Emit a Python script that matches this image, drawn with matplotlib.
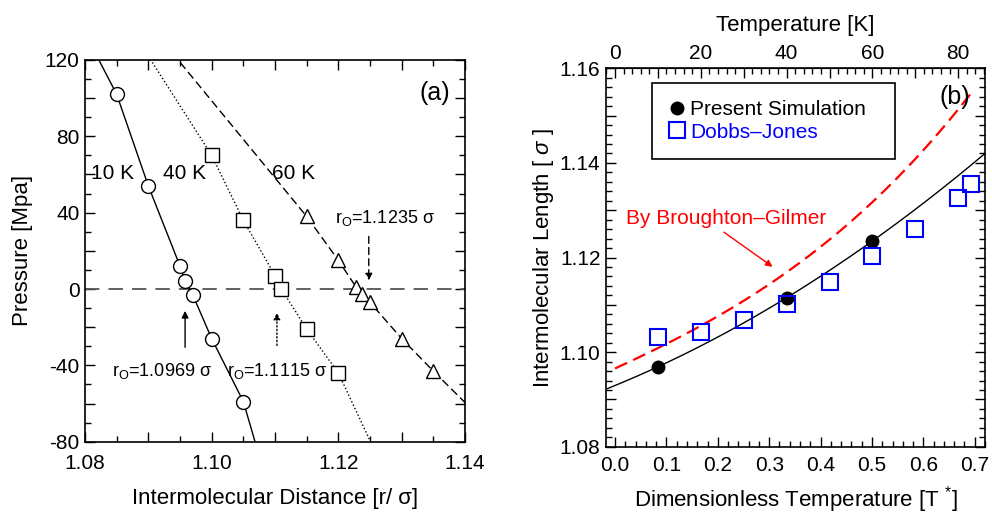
import numpy as np
import matplotlib
matplotlib.use("Agg")
import matplotlib.pyplot as plt
from matplotlib.ticker import MultipleLocator, FuncFormatter

plt.rcParams['font.family'] = ['Liberation Sans', 'DejaVu Sans']
plt.rcParams['mathtext.fontset'] = 'custom'
plt.rcParams['mathtext.rm'] = 'Liberation Sans'
plt.rcParams['mathtext.it'] = 'Liberation Sans:italic'
plt.rcParams['font.size'] = 14

# ---- (a) pressure vs intermolecular distance ----
r_10K = [1.0850, 1.0900, 1.0950, 1.0958, 1.0970, 1.1000, 1.1050]
p_10K = [102, 54, 12, 4, -3, -26, -59]
r_40K = [1.1000, 1.1050, 1.1100, 1.1110, 1.1150, 1.1200]
p_40K = [70, 36, 7, 0, -21, -44]
r_60K = [1.1150, 1.1200, 1.1228, 1.1238, 1.1250, 1.1300, 1.1350]
p_60K = [38, 15, 1, -2.5, -7, -26, -43]
# curve points that fall outside the frame (line only, no marker)
r_10K_out = [1.080, 1.110]
p_10K_out = [134, -116]
r_40K_out = [1.090, 1.130]
p_40K_out = [122, -115]
r_60K_out = [1.090, 1.145]
p_60K_out = [139, -76]

r0_values = [1.0969, 1.1115, 1.1235]

# ---- (b) intermolecular length vs temperature ----
eps_k = 119.8  # K, T* = T / eps_k
T_sim = [10, 40, 60]
L_sim = [1.0969, 1.1115, 1.1235]
T_dj = [10, 20, 30, 40, 50, 60, 70, 80, 83]
L_dj = [1.1033, 1.1043, 1.1068, 1.1101, 1.1149, 1.1204, 1.1260, 1.1326, 1.1355]
T_bg = [0, 10, 20, 30, 40, 50, 60, 70, 80, 83]
L_bg = [1.0963, 1.1013, 1.1058, 1.1103, 1.1165, 1.1243, 1.1319, 1.1407, 1.1510, 1.1550]


def every(step):
    def fmt(v, pos):
        k = v / step
        if abs(k - round(k)) < 1e-6:
            return ('%.2f' % v) if step < 1 else ('%d' % round(v))
        return ''
    return fmt


def curve(x, y, x_out, y_out):
    xs = np.array(list(x) + list(x_out))
    ys = np.array(list(y) + list(y_out))
    order = np.argsort(xs)
    return xs[order], ys[order]


fig = plt.figure(figsize=(9.92, 5.18), dpi=100)

# ================= panel (a) =================
ax = fig.add_axes([0.0857, 0.1473, 0.3831, 0.7369])
ax.axhline(0, color='#555555', lw=1.3, dashes=(8, 5))

xc, yc = curve(r_10K, p_10K, r_10K_out, p_10K_out)
ax.plot(xc, yc, color='black', lw=1.0)
ax.plot(r_10K, p_10K, 'o', ms=10, mfc='white', mec='black', mew=1.0)

xc, yc = curve(r_40K, p_40K, r_40K_out, p_40K_out)
ax.plot(xc, yc, color='black', lw=1.0, ls=':')
ax.plot(r_40K, p_40K, 's', ms=10, mfc='white', mec='black', mew=1.0)

xc, yc = curve(r_60K, p_60K, r_60K_out, p_60K_out)
ax.plot(xc, yc, color='black', lw=1.0, dashes=(6, 3))
ax.plot(r_60K, p_60K, '^', ms=10, mfc='white', mec='black', mew=1.0)

ax.set_xlim(1.08, 1.14)
ax.set_ylim(-80, 120)
ax.xaxis.set_major_locator(MultipleLocator(0.01))
ax.xaxis.set_minor_locator(MultipleLocator(0.005))
ax.xaxis.set_major_formatter(FuncFormatter(every(0.02)))
ax.yaxis.set_major_locator(MultipleLocator(20))
ax.yaxis.set_minor_locator(MultipleLocator(10))
ax.yaxis.set_major_formatter(FuncFormatter(every(40)))
ax.tick_params(which='both', direction='in', top=True, right=True, labelsize=15, width=1.0)
ax.tick_params(which='major', length=7)
ax.tick_params(which='minor', length=4)
ax.tick_params(axis='x', which='major', pad=9)
ax.tick_params(axis='y', which='major', pad=4)
for s in ax.spines.values():
    s.set_linewidth(1.2)
ax.set_xlabel('Intermolecular Distance [r/ σ]', fontsize=16, labelpad=11)
ax.set_ylabel('Pressure [Mpa]', fontsize=16, labelpad=8)

ax.text(1.0810, 60.5, '10 K', fontsize=15, ha='left', va='center')
ax.text(1.0923, 60.5, '40 K', fontsize=15, ha='left', va='center')
ax.text(1.1096, 60.5, '60 K', fontsize=15, ha='left', va='center')
ax.text(1.1376, 102.5, '(a)', fontsize=18, ha='right', va='center')

ax.text(1.1195, 37, 'r$_\\mathregular{O}$=%.4f σ' % r0_values[2], fontsize=13, ha='left', va='center')
ax.text(1.0842, -43, 'r$_\\mathregular{O}$=%.4f σ' % r0_values[0], fontsize=13, ha='left', va='center')
ax.text(1.1024, -43, 'r$_\\mathregular{O}$=%.4f σ' % r0_values[1], fontsize=13, ha='left', va='center')

ax.annotate('', xy=(1.1248, 3), xytext=(1.1248, 29),
            arrowprops=dict(arrowstyle='-|>', color='black', lw=1.0, ls=(0, (5, 3)), mutation_scale=10))
ax.annotate('', xy=(1.0958, -10), xytext=(1.0958, -32),
            arrowprops=dict(arrowstyle='-|>', color='black', lw=1.0, mutation_scale=10))
ax.annotate('', xy=(1.1103, -11), xytext=(1.1103, -31),
            arrowprops=dict(arrowstyle='-|>', color='black', lw=1.0, ls=':', mutation_scale=10))

# ================= panel (b) =================
bx = fig.add_axes([0.6109, 0.1376, 0.3821, 0.7305])

ts_sim = np.array(T_sim) / eps_k
ts_dj = np.array(T_dj) / eps_k
ts_bg = np.array(T_bg) / eps_k

fit_sim = np.polyfit(ts_sim, L_sim, 2)
tt = np.linspace(-0.02, 0.72, 200)
bx.plot(tt, np.polyval(fit_sim, tt), color='black', lw=1.0)

fit_bg = np.polyfit(ts_bg, L_bg, 3)
tb = np.linspace(ts_bg[0], ts_bg[-1], 200)
bx.plot(tb, np.polyval(fit_bg, tb), color='red', lw=1.6, dashes=(6, 3))

h1, = bx.plot(ts_sim, L_sim, 'o', ms=9, color='black', label='Present Simulation')
h2, = bx.plot(ts_dj, L_dj, 's', ms=11, mfc='none', mec='blue', mew=1.5, label='Dobbs–Jones')

bx.set_xlim(-0.0175, 0.72)
bx.set_ylim(1.08, 1.16)
bx.xaxis.set_major_locator(MultipleLocator(0.1))
bx.xaxis.set_minor_locator(MultipleLocator(0.02))
bx.xaxis.set_major_formatter(FuncFormatter(lambda v, p: '%.1f' % v))
bx.yaxis.set_major_locator(MultipleLocator(0.01))
bx.yaxis.set_minor_locator(MultipleLocator(0.002))
bx.yaxis.set_major_formatter(FuncFormatter(every(0.02)))
bx.tick_params(which='both', direction='in', top=False, right=True, labelsize=15, width=1.0)
bx.tick_params(which='major', length=7)
bx.tick_params(which='minor', length=4)
bx.tick_params(axis='x', which='major', pad=7)
bx.tick_params(axis='y', which='major', pad=4)
for s in bx.spines.values():
    s.set_linewidth(1.2)
bx.set_xlabel('Dimensionless Temperature [T $^{*}$]', fontsize=16, labelpad=6)
bx.set_ylabel('Intermolecular Length [ $\\it{σ}$ ]', fontsize=16, labelpad=3)

sec = bx.secondary_xaxis('top', functions=(lambda t: t * eps_k, lambda T: T / eps_k))
sec.xaxis.set_major_locator(MultipleLocator(10))
sec.xaxis.set_minor_locator(MultipleLocator(2))
sec.xaxis.set_major_formatter(FuncFormatter(every(20)))
sec.tick_params(which='both', direction='in', labelsize=15, width=1.0)
sec.tick_params(which='major', length=7, pad=4)
sec.tick_params(which='minor', length=4)
sec.set_xlabel('Temperature [K]', fontsize=16, labelpad=9)

leg = bx.legend(handles=[h1, h2], loc='upper left', bbox_to_anchor=(0.1206, 0.762, 0.642, 0.2),
                mode='expand', borderaxespad=0, fontsize=15, handlelength=0.7, handletextpad=0.3,
                borderpad=0.85, labelspacing=0.15, fancybox=False, framealpha=1,
                edgecolor='black')
leg.get_frame().set_linewidth(1.2)
leg.get_texts()[0].set_color('black')
leg.get_texts()[1].set_color('blue')

bx.text(0.960, 0.925, '(b)', transform=bx.transAxes, fontsize=18, ha='right', va='center')
bx.text(0.053, 0.6036, 'By Broughton–Gilmer', transform=bx.transAxes, fontsize=15,
        color='red', ha='left', va='center')
bx.annotate('', xy=(0.311, 1.1177), xytext=(0.2076, 1.1257),
            arrowprops=dict(arrowstyle='-|>', color='red', lw=1.0, mutation_scale=10))

fig.savefig('out.png', dpi=100)
